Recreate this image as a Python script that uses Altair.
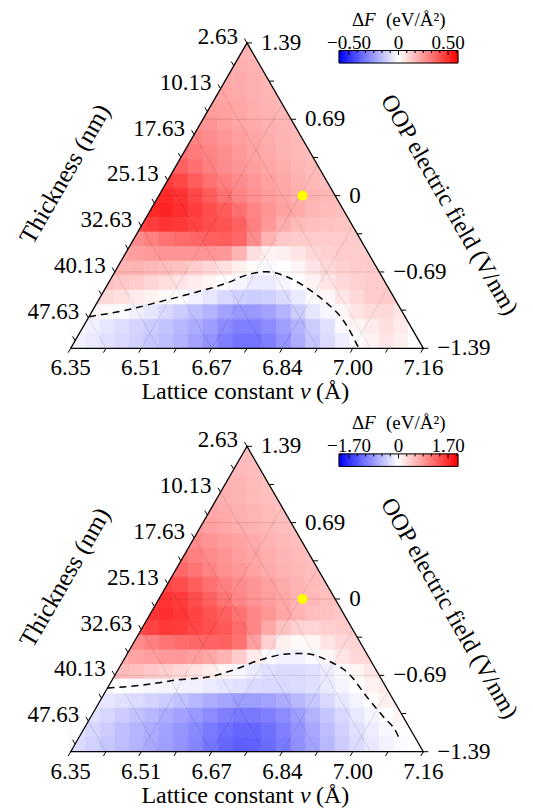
import math
import altair as alt
import pandas as pd

FONT = "Liberation Serif"

# ---------------- values ----------------
LATTICE_LABELS = ["6.35", "6.51", "6.67", "6.84", "7.00", "7.16"]
THICKNESS_LABELS = ["2.63", "10.13", "17.63", "25.13", "32.63", "40.13", "47.63"]
FIELD_LABELS = ["1.39", "0.69", "0", "\u22120.69", "\u22121.39"]
LATTICE_MIN, LATTICE_MAX = 6.35, 7.16
FIELD_MIN, FIELD_MAX = -1.39, 1.39

CBAR_LIMIT = [0.60, 2.04]
CBAR_LABEL_VALUE = [0.50, 1.70]
CBAR_LABELS = [["\u22120.50", "0", "0.50"], ["\u22121.70", "0", "1.70"]]

MARK_LATTICE = [6.68, 6.68]
MARK_FIELD = [0.0, 0.0]

# Delta F in percent of the colour-bar limit, rows from the apex down,
# each row only the cells that touch the triangle
TOP_DF = [
    [30, 30],
    [32, 31, 30, 29],
    [34, 33, 31, 29],
    [37, 35, 33, 31, 29, 28],
    [39, 37, 35, 32, 30, 28],
    [43, 41, 38, 35, 33, 31, 29, 27],
    [48, 45, 41, 38, 35, 32, 30, 28],
    [56, 52, 48, 44, 40, 36, 33, 30, 28, 26],
    [66, 62, 56, 50, 45, 41, 38, 35, 32, 29, 27, 25],
    [76, 72, 64, 56, 50, 45, 41, 37, 34, 31, 28, 26],
    [80, 84, 80, 72, 64, 55, 48, 43, 39, 35, 32, 30, 28, 26],
    [84, 86, 82, 76, 70, 64, 56, 48, 42, 37, 33, 29, 27, 25],
    [70, 76, 80, 78, 74, 70, 68, 62, 50, 40, 32, 27, 25, 24, 23, 22],
    [45, 50, 55, 58, 60, 62, 64, 60, 45, 30, 22, 20, 20, 20, 20, 20],
    [35, 38, 40, 42, 42, 42, 42, 40, 30, 12, 5, 6, 10, 15, 18, 20, 20, 20],
    [30, 30, 30, 28, 26, 24, 20, 16, 12, 6, 1, -2, 0, 4, 10, 15, 18, 20, 20, 18],
    [24, 22, 20, 16, 13, 10, 7, 4, 0, -4, -8, -8, -4, 0, 5, 10, 15, 18, 20, 20],
    [18, 15, 12, 8, 5, 2, -1, -5, -10, -15, -18, -20, -18, -14, -8, -2, 3, 10, 15, 20, 20, 18],
    [4, 2, -2, -6, -10, -15, -20, -25, -30, -36, -40, -40, -36, -30, -20, -10, -3, 3, 10, 14, 15, 10],
    [-3, -6, -10, -13, -17, -20, -24, -28, -33, -38, -45, -50, -50, -45, -38, -30, -20, -12, -2, 4, 8, 12, 8, 0],
    [-5, -8, -12, -15, -18, -22, -26, -30, -36, -42, -50, -55, -55, -50, -42, -32, -22, -14, -7, -1, 5, 10, 6, 0],
]
BOTTOM_DF = [
    [26, 26],
    [28, 27, 26, 25],
    [30, 29, 27, 25],
    [33, 31, 29, 27, 25, 24],
    [35, 33, 31, 29, 27, 25],
    [40, 37, 35, 32, 30, 28, 26, 24],
    [45, 42, 39, 36, 33, 30, 28, 26],
    [54, 50, 46, 42, 38, 35, 32, 29, 27, 25],
    [62, 59, 54, 48, 43, 40, 36, 33, 30, 28, 26, 24],
    [72, 70, 63, 56, 50, 45, 41, 37, 33, 30, 27, 25],
    [76, 80, 77, 70, 62, 54, 47, 42, 38, 34, 30, 28, 25, 23],
    [80, 82, 79, 74, 68, 62, 55, 47, 41, 35, 30, 26, 24, 22],
    [68, 74, 78, 77, 73, 69, 65, 58, 47, 34, 24, 18, 17, 19, 20, 20],
    [45, 50, 55, 58, 60, 61, 62, 56, 38, 18, 6, 2, 4, 10, 15, 17],
    [33, 36, 38, 40, 40, 38, 35, 30, 20, 8, -2, -5, -5, -2, 3, 10, 15, 16],
    [28, 27, 25, 22, 19, 15, 11, 7, 3, -3, -8, -12, -14, -14, -12, -7, -2, 4, 10, 13],
    [2, 0, -2, -3, -4, -5, -6, -8, -10, -12, -14, -15, -15, -14, -12, -8, -4, 0, 5, 9],
    [-8, -10, -12, -14, -17, -20, -24, -28, -32, -35, -38, -38, -36, -33, -28, -22, -15, -9, -4, 1, 6, 8],
    [-12, -16, -20, -24, -28, -32, -36, -40, -45, -50, -53, -53, -50, -45, -38, -30, -22, -15, -9, -4, 0, 4],
    [-12, -16, -20, -25, -29, -33, -37, -41, -46, -52, -57, -60, -60, -56, -50, -42, -34, -26, -18, -12, -7, -3, 1, 0],
    [-14, -18, -22, -26, -30, -34, -38, -42, -48, -54, -60, -63, -62, -58, -52, -44, -36, -28, -20, -14, -9, -5, -2, 0],
]

# zero contour (dashed), in triangle coordinates (base = 1)
TOP_CONTOUR_X = [0.052, 0.1588, 0.2533, 0.3469, 0.4433, 0.4991, 0.5559, 0.6126, 0.6787, 0.7260, 0.7723, 0.8006, 0.8148]
TOP_CONTOUR_Y = [0.0896, 0.1086, 0.1322, 0.1568, 0.1852, 0.2079, 0.2172, 0.2031, 0.1653, 0.1285, 0.0803, 0.0329, 0.0045]
BOTTOM_CONTOUR_X = [0.1043, 0.2059, 0.3006, 0.3951, 0.4611, 0.5369, 0.6126, 0.6597, 0.7260, 0.7921, 0.8395, 0.8866, 0.9246, 0.9339]
BOTTOM_CONTOUR_Y = [0.1807, 0.1892, 0.2033, 0.2127, 0.2317, 0.2601, 0.2771, 0.2788, 0.2601, 0.2175, 0.1560, 0.0993, 0.0530, 0.0320]

# ---------------- geometry ----------------
HT = math.sqrt(3) / 2
PX = 352.6
U = 1 / PX
W, H = 517, 802
XDOM = [-62.7 * U, (W - 62.7) * U]
YDOM = [(340.3 - H) * U, 340.3 * U]
PANEL_DY = [0.0, -403.4 * U]
NCOL, NROW = 24, 21
RH = HT / NROW


def left_pt(f):
    return (0.5 - f / 2, (1 - f) * HT)


def right_pt(f):
    return (1 - f / 2, f * HT)


def bottom_pt(f):
    return (f, 0.0)


XS = alt.Scale(domain=XDOM, nice=False, zero=False)
YS = alt.Scale(domain=YDOM, nice=False, zero=False)
CS = alt.Scale(domain=[-1, 0, 1], range=["#0000ff", "#ffffff", "#ff0000"], interpolate="rgb")


def X(f="x"):
    return alt.X(f"{f}:Q", scale=XS, axis=None)


def Y(f="y"):
    return alt.Y(f"{f}:Q", scale=YS, axis=None)


cells, mask, grid, edges, ticks = [], [], [], [], []
contour, dots = [], []
lab_b, lab_r, lab_l = [], [], []
cb_strips, cb_box, cb_ticks, cb_labels = [], [], [], []
t_thick, t_field, t_lat1, t_lat2, t_lat3 = [], [], [], [], []
cb_t1, cb_t2, cb_t3 = [], [], []

CB_CX, CB_HW = 327.8 * U, 59.5 * U
CB_TOP, CB_BOT = 297.8 * U, 285.3 * U
CB_LABEL_Y, CB_TITLE_Y = 305.8 * U, 328.3 * U
TL = 5 * U

for p, rows in enumerate([TOP_DF, BOTTOM_DF]):
    dy = PANEL_DY[p]
    # heat-map cells
    for i, row in enumerate(rows):
        r = NROW - 1 - i
        c0 = math.floor(NCOL * r / 42 + 1e-9)
        c1 = math.ceil(NCOL - NCOL * r / 42 - 1e-9) - 1
        assert len(row) == c1 - c0 + 1, (p, r, len(row))
        for j, val in enumerate(row):
            c = c0 + j
            cells.append(dict(x=c / NCOL, x2=(c + 1) / NCOL, y=r * RH + dy, y2=(r + 1) * RH + dy, n=val / 100))
    # white mask outside the triangle
    for (mx, my) in [(0, 0), (0.5, HT), (1, 0)]:
        mask.append(dict(panel=p, x=mx, y=my + dy, y2=HT + 0.06 + dy))
    # grid lines
    segs = []
    for k in (1, 2, 3):
        fr = k / 4
        segs.append((left_pt(1 - fr), right_pt(fr)))
    for k in (1, 2, 3, 4):
        fb = k / 5
        segs.append((bottom_pt(fb), right_pt(1 - fb)))
    for k in range(1, 7):
        fl = 0.15 * k
        segs.append((left_pt(fl), bottom_pt(1 - fl)))
    for a, b in segs:
        grid.append(dict(x=a[0], y=a[1] + dy, x2=b[0], y2=b[1] + dy))
    # triangle edges
    for a, b in [((0, 0), (0.5, HT)), ((0.5, HT), (1, 0)), ((0, 0), (1, 0))]:
        edges.append(dict(x=a[0], y=a[1] + dy, x2=b[0], y2=b[1] + dy))
    # ticks
    for k in range(11):
        tx, ty = bottom_pt(k / 10)
        ticks.append(dict(x=tx, y=ty + dy, x2=tx - 0.5 * TL, y2=ty - HT * TL + dy))
    for k in range(9):
        tx, ty = right_pt(k / 8)
        ticks.append(dict(x=tx, y=ty + dy, x2=tx + TL, y2=ty + dy))
    for k in range(14):
        tx, ty = left_pt(0.075 * k)
        ticks.append(dict(x=tx, y=ty + dy, x2=tx - 0.5 * TL, y2=ty + HT * TL + dy))
    # tick labels
    for i, lab in enumerate(LATTICE_LABELS):
        tx, ty = bottom_pt(i / 5)
        lab_b.append(dict(x=tx, y=ty - 20 * U + dy, t=lab))
    for i, lab in enumerate(FIELD_LABELS):
        tx, ty = right_pt(1 - i / 4)
        lab_r.append(dict(x=tx + 14 * U, y=ty + dy, t=lab))
    for i, lab in enumerate(THICKNESS_LABELS):
        tx, ty = left_pt(0.15 * i)
        lab_l.append(dict(x=tx - 9 * U, y=ty + 6 * U + dy, t=lab))
    # axis titles
    t_thick.append(dict(x=-5.7 * U, y=174.3 * U + dy, t="Thickness (nm)"))
    t_field.append(dict(x=378.3 * U, y=143.3 * U + dy, t="OOP electric field (V/nm)"))
    t_lat1.append(dict(x=223.3 * U, y=-44 * U + dy, t="Lattice constant"))
    t_lat2.append(dict(x=229.3 * U, y=-44 * U + dy, t="v"))
    t_lat3.append(dict(x=245.3 * U, y=-44 * U + dy, t="(\u00c5)"))
    # zero contour
    cx = TOP_CONTOUR_X if p == 0 else BOTTOM_CONTOUR_X
    cy = TOP_CONTOUR_Y if p == 0 else BOTTOM_CONTOUR_Y
    for i, (a, b) in enumerate(zip(cx, cy)):
        contour.append(dict(panel=p, i=i, x=a, y=b + dy))
    # marked point
    fb = (MARK_LATTICE[p] - LATTICE_MIN) / (LATTICE_MAX - LATTICE_MIN)
    fr = (MARK_FIELD[p] - FIELD_MIN) / (FIELD_MAX - FIELD_MIN)
    dots.append(dict(x=fb + fr / 2, y=fr * HT + dy))
    # colour bar
    vmax = CBAR_LIMIT[p]
    N = 120
    for i in range(N):
        x0 = CB_CX - CB_HW + 2 * CB_HW * i / N
        cb_strips.append(dict(x=x0, x2=x0 + 2 * CB_HW / N, y=CB_BOT + dy, y2=CB_TOP + dy, n=-1 + (i + 0.5) * 2 / N))
    cb_box.append(dict(x=CB_CX - CB_HW, x2=CB_CX + CB_HW, y=CB_BOT + dy, y2=CB_TOP + dy))
    lv = CBAR_LABEL_VALUE[p]
    for k in range(-7, 8):
        v = k * lv / 6
        if abs(v) > vmax:
            continue
        tx = CB_CX + v / vmax * CB_HW
        ln = (4.5 if k % 6 == 0 else 2.5) * U
        cb_ticks.append(dict(x=tx, y=CB_TOP + dy, x2=tx, y2=CB_TOP - ln + dy))
    for v, lab in zip([-lv, 0, lv], CBAR_LABELS[p]):
        cb_labels.append(dict(x=CB_CX + v / vmax * CB_HW, y=CB_LABEL_Y + dy, t=lab))
    cb_t1.append(dict(x=281.3 * U, y=CB_TITLE_Y + dy, t="\u0394"))
    cb_t2.append(dict(x=293.3 * U, y=CB_TITLE_Y + dy, t="F"))
    cb_t3.append(dict(x=315.3 * U, y=CB_TITLE_Y + dy, t="(eV/\u00c5\u00b2)"))


def seg_layer(rows, **kw):
    return alt.Chart(pd.DataFrame(rows)).mark_rule(**kw).encode(
        x=X(), y=Y(), x2=alt.X2("x2:Q"), y2=alt.Y2("y2:Q"))


def text_layer(rows, **kw):
    return alt.Chart(pd.DataFrame(rows)).mark_text(font=FONT, baseline="middle", color="black", **kw).encode(
        x=X(), y=Y(), text="t:N")


layers = [
    alt.Chart(pd.DataFrame(cells)).mark_rect(strokeWidth=0.6).encode(
        x=X(), x2=alt.X2("x2:Q"), y=Y(), y2=alt.Y2("y2:Q"),
        color=alt.Color("n:Q", scale=CS, legend=None),
        stroke=alt.Stroke("n:Q", scale=CS, legend=None)),
    alt.Chart(pd.DataFrame(mask)).mark_area(color="white", opacity=1).encode(
        x=X(), y=Y(), y2=alt.Y2("y2:Q"), detail="panel:N"),
    seg_layer(grid, color="black", opacity=0.13, strokeWidth=0.8),
    seg_layer(edges, color="black", strokeWidth=1.3, strokeCap="square"),
    seg_layer(ticks, color="black", strokeWidth=1),
    alt.Chart(pd.DataFrame(contour)).mark_line(
        color="black", strokeWidth=1.5, strokeDash=[7, 5], interpolate="monotone").encode(
        x=X(), y=Y(), detail="panel:N", order="i:Q"),
    alt.Chart(pd.DataFrame(dots)).mark_circle(color="#ffff00", size=100, opacity=1).encode(x=X(), y=Y()),
    alt.Chart(pd.DataFrame(cb_strips)).mark_rect(strokeWidth=0.5).encode(
        x=X(), x2=alt.X2("x2:Q"), y=Y(), y2=alt.Y2("y2:Q"),
        color=alt.Color("n:Q", scale=CS, legend=None),
        stroke=alt.Stroke("n:Q", scale=CS, legend=None)),
    alt.Chart(pd.DataFrame(cb_box)).mark_rect(fillOpacity=0, stroke="black", strokeWidth=1).encode(
        x=X(), x2=alt.X2("x2:Q"), y=Y(), y2=alt.Y2("y2:Q")),
    seg_layer(cb_ticks, color="black", strokeWidth=1),
    text_layer(lab_b, fontSize=23, align="center"),
    text_layer(lab_r, fontSize=23, align="left"),
    text_layer(lab_l, fontSize=23, align="right"),
    text_layer(t_thick, fontSize=25, align="center", angle=300),
    text_layer(t_field, fontSize=24, align="center", angle=60),
    text_layer(t_lat1, fontSize=24, align="right"),
    text_layer(t_lat2, fontSize=24, align="left", fontStyle="italic"),
    text_layer(t_lat3, fontSize=24, align="left"),
    text_layer(cb_labels, fontSize=19, align="center"),
    text_layer(cb_t1, fontSize=19, align="left"),
    text_layer(cb_t2, fontSize=19, align="left", fontStyle="italic"),
    text_layer(cb_t3, fontSize=19, align="left"),
]

chart = alt.layer(*layers).properties(
    width=W, height=H, autosize=alt.AutoSizeParams(type="none"), padding=0
).configure_view(strokeWidth=0)

chart.save("out.html", embed_options={"renderer": "svg", "actions": False})
